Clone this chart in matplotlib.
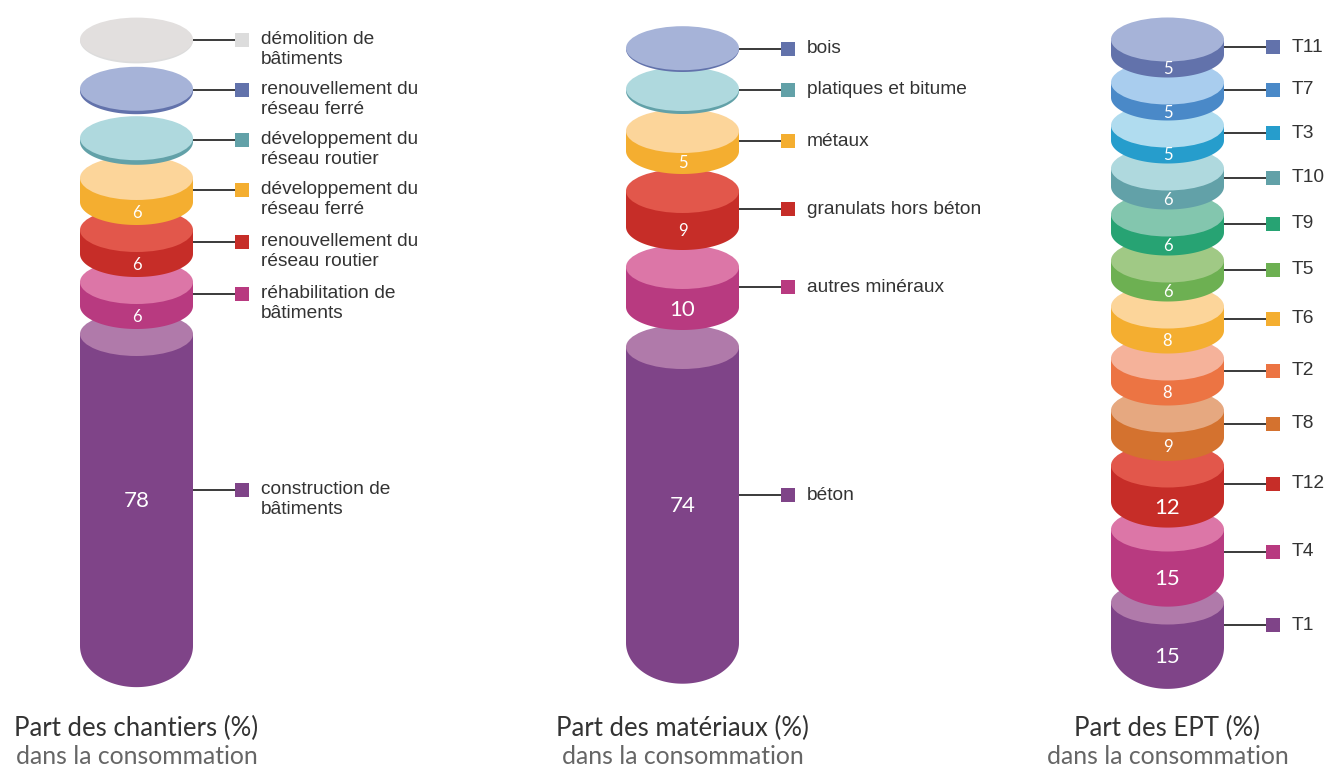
import matplotlib
matplotlib.use("Agg")
import matplotlib.pyplot as plt
from matplotlib.patches import Ellipse, PathPatch, Rectangle
from matplotlib.path import Path
import numpy as np

# ---------------- data (bottom -> top) ----------------
chantiers_labels = ["construction de\nbâtiments", "réhabilitation de\nbâtiments",
                    "renouvellement du\nréseau routier", "développement du\nréseau ferré",
                    "développement du\nréseau routier", "renouvellement du\nréseau ferré",
                    "démolition de\nbâtiments"]
chantiers_values = [78, 6, 6, 6, 0.9, 0.6, 0.2]
chantiers_shown = [True, True, True, True, False, False, False]

materiaux_labels = ["béton", "autres minéraux", "granulats hors béton", "métaux",
                    "platiques et bitume", "bois"]
materiaux_values = [74, 10, 9, 5, 0.5, 0.2]
materiaux_shown = [True, True, True, True, False, False]

ept_labels = ["T1", "T4", "T12", "T8", "T2", "T6", "T5", "T9", "T10", "T3", "T7", "T11"]
ept_values = [15, 15, 12, 9, 8, 8, 6, 6, 6, 5, 5, 5]
ept_shown = [True] * 12

titles = ["Part des chantiers (%)", "Part des matériaux (%)", "Part des EPT (%)"]
subtitle = "dans la consommation"

# ---------------- styles ----------------
PURPLE = ("#7f4488", "#b07aaa")
PINK = ("#b83a80", "#dc76a7")
RED = ("#c62d28", "#e2574b")
ORANGE = ("#f4ae30", "#fcd59a")
TEAL = ("#62a1a8", "#afd9de")
BLUE = ("#6272ab", "#a6b3d8")
GREY = ("#dcdcdc", "#e2dfde")
BROWN = ("#d4722f", "#e6a880")
CORAL = ("#ec7443", "#f5b29a")
GREEN = ("#6db052", "#a0c985")
EMERALD = ("#27a373", "#83c6ae")
CYAN = ("#269dcc", "#b0dcef")
SKY = ("#4a89c8", "#a9cdee")

chantiers_colors = [PURPLE, PINK, RED, ORANGE, TEAL, BLUE, GREY]
materiaux_colors = [PURPLE, PINK, RED, ORANGE, TEAL, BLUE]
ept_colors = [PURPLE, PINK, RED, BROWN, CORAL, ORANGE, GREEN, EMERALD, TEAL, CYAN, SKY, BLUE]

W, H = 1328, 768
fig = plt.figure(figsize=(W / 100, H / 100), dpi=100)
ax = fig.add_axes([0, 0, 1, 1])
ax.set_xlim(0, W)
ax.set_ylim(H, 0)
ax.axis("off")

A = 56.5      # half width of cylinders
BT = 22.0     # top ellipse half-height


def bottom_b(y):
    return 23 + 18 * max(0.0, (y - 400) / 245) ** 2


def draw_stack(cx, values, colors, labels, shown, k, gap, min_sp, bottom_mid):
    mids = [bottom_mid]
    for i in range(1, len(values)):
        sp = max(k * (values[i - 1] + values[i]) / 2 + gap, min_sp)
        mids.append(mids[-1] - sp)
    for i, v in enumerate(values):
        side, top = colors[i]
        h = k * v
        yt = mids[i] - h / 2
        yb = mids[i] + h / 2
        bb = bottom_b(yb)
        th = np.linspace(np.pi, 0, 90)
        verts = [(cx - A, yt), (cx - A, yb)]
        verts += [(cx + A * np.cos(t), yb + bb * np.sin(t)) for t in th]
        verts += [(cx + A, yt), (cx - A, yt)]
        codes = [Path.MOVETO] + [Path.LINETO] * (len(verts) - 2) + [Path.CLOSEPOLY]
        ax.add_patch(PathPatch(Path(verts, codes), facecolor=side, edgecolor="none", lw=0, zorder=2 + i))
        ax.add_patch(Ellipse((cx, yt), 2 * A, 2 * BT, facecolor=top, edgecolor="none", lw=0, zorder=2 + i))
        # leader + legend
        ym = mids[i]
        ax.plot([cx + A, cx + 98], [ym, ym], color="#3a3a3a", lw=1.4, zorder=1, solid_capstyle="butt")
        ax.add_patch(Rectangle((cx + 98, ym - 7), 14, 14, facecolor=side, edgecolor="none", zorder=30))
        for j, line in enumerate(labels[i].split("\n")):
            ax.text(cx + 124.5, ym + j * 20, line, ha="left", va="center", fontsize=13.8,
                    family=["Liberation Sans", "DejaVu Sans"], color="#333333", zorder=30)
        if shown[i]:
            if h > 150:
                ly = ym + 11
            else:
                ly = (yt + BT + yb + bb) / 2
            big = v >= 10
            ax.text(cx, ly, f"{v:g}", ha="center", va="center", color="white",
                    fontsize=16 if big else 12, family=["Lato", "DejaVu Sans"], zorder=40)


draw_stack(136.5, chantiers_values, chantiers_colors, chantiers_labels, chantiers_shown,
           k=4.0, gap=28, min_sp=50, bottom_mid=490)
draw_stack(682.5, materiaux_values, materiaux_colors, materiaux_labels, materiaux_shown,
           k=4.0, gap=40, min_sp=0, bottom_mid=495)
draw_stack(1167.5, ept_values, ept_colors, ept_labels, ept_shown,
           k=3.0, gap=28, min_sp=0, bottom_mid=625)

for cx, t in zip([136.5, 682.5, 1167.5], titles):
    ax.text(cx, 728, t, ha="center", va="center", fontsize=18.5, family=["Lato", "DejaVu Sans"],
            color="#333333")
    ax.text(cx, 756, subtitle, ha="center", va="center", fontsize=17.8, family=["Lato", "DejaVu Sans"],
            fontweight="normal", color="#666666")

fig.savefig("out.png", dpi=100)
